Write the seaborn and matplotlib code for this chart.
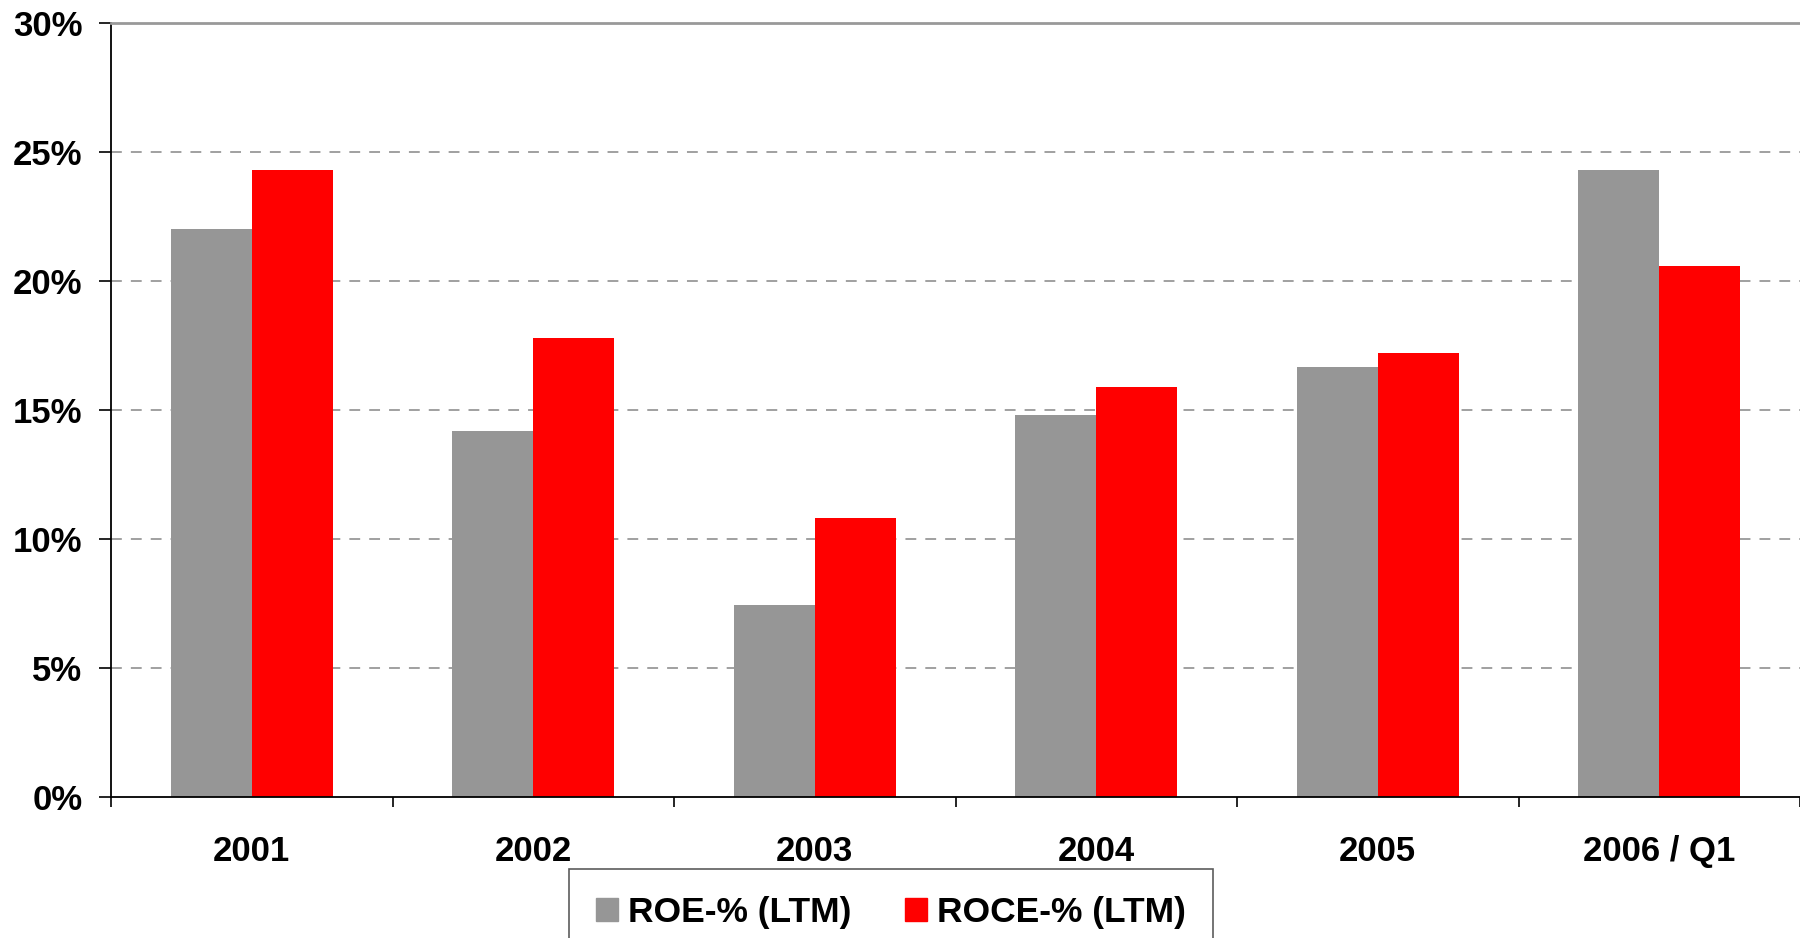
import numpy as np
import pandas as pd
import matplotlib
matplotlib.use('Agg')
import matplotlib.pyplot as plt
import seaborn as sns
from matplotlib.ticker import FixedLocator, FuncFormatter

# chart data (values in %)
years = ['2001', '2002', '2003', '2004', '2005', '2006 / Q1']
roe = [22.0, 14.2, 7.45, 14.8, 16.65, 24.3]
roce = [24.3, 17.8, 10.8, 15.9, 17.2, 20.6]
series_names = ['ROE-% (LTM)', 'ROCE-% (LTM)']
colors = ['#969696', '#FF0000']
y_ticks = [0, 5, 10, 15, 20, 25, 30]

df = pd.DataFrame({
    'year': years * 2,
    'value': roe + roce,
    'series': [series_names[0]] * len(years) + [series_names[1]] * len(years),
})

sns.set_style('white')
plt.rcParams['font.family'] = ['Liberation Sans', 'DejaVu Sans']
plt.rcParams['font.weight'] = 'bold'
plt.rcParams['text.color'] = 'black'
plt.rcParams['xtick.color'] = 'black'
plt.rcParams['ytick.color'] = 'black'

fig = plt.figure(figsize=(18, 9.38), dpi=100)
ax = fig.add_axes([111 / 1800, 1 - 797 / 938, 1 - 111 / 1800, (797 - 23) / 938])

sns.barplot(data=df, x='year', y='value', hue='series', palette=colors,
            width=0.575, saturation=1, linewidth=0, ax=ax, legend=False)

ax.set_xlim(-0.5, len(years) - 0.5)
ax.set_ylim(0, 30)
ax.set_xlabel('')
ax.set_ylabel('')

# grid lines
for t in y_ticks[1:-1]:
    ax.axhline(t, color='#999999', lw=1.3, ls=(0, (6, 5)), zorder=0)

ax.set_yticks(y_ticks)
ax.yaxis.set_major_formatter(FuncFormatter(lambda v, p: f'{int(v)}%'))
ax.tick_params(axis='y', direction='out', length=8.5, width=1.2, color='black',
               labelcolor='black', pad=12, labelsize=25, left=True)
ax.tick_params(axis='x', which='major', length=0, pad=27, labelsize=25,
               labelcolor='black')
ax.xaxis.set_minor_locator(FixedLocator(np.arange(-0.5, len(years), 1.0)))
ax.tick_params(axis='x', which='minor', direction='out', length=7.5, width=1.2,
               color='black', bottom=True)
for lab in ax.get_xticklabels() + ax.get_yticklabels():
    lab.set_fontweight('bold')

for side in ['left', 'bottom']:
    ax.spines[side].set_color('black')
    ax.spines[side].set_linewidth(1.3)
ax.spines['top'].set_color('#999999')
ax.spines['top'].set_linewidth(2)
ax.spines['right'].set_visible(False)

handles = [plt.Rectangle((0, 0), 1, 1, color=c) for c in colors]
leg = fig.legend(handles, series_names, loc='upper left',
                 bbox_to_anchor=(569 / 1800, 1 - 869 / 938), ncol=2,
                 frameon=True, fancybox=False,
                 prop={'weight': 'bold', 'size': 25.5},
                 handlelength=0.62, handleheight=0.62, handletextpad=0.3,
                 columnspacing=1.5, borderpad=0.75, borderaxespad=0)
leg.get_frame().set_edgecolor('#333333')
leg.get_frame().set_linewidth(1.2)
for txt in leg.get_texts():
    txt.set_color('black')

fig.savefig('out.png', dpi=100)
